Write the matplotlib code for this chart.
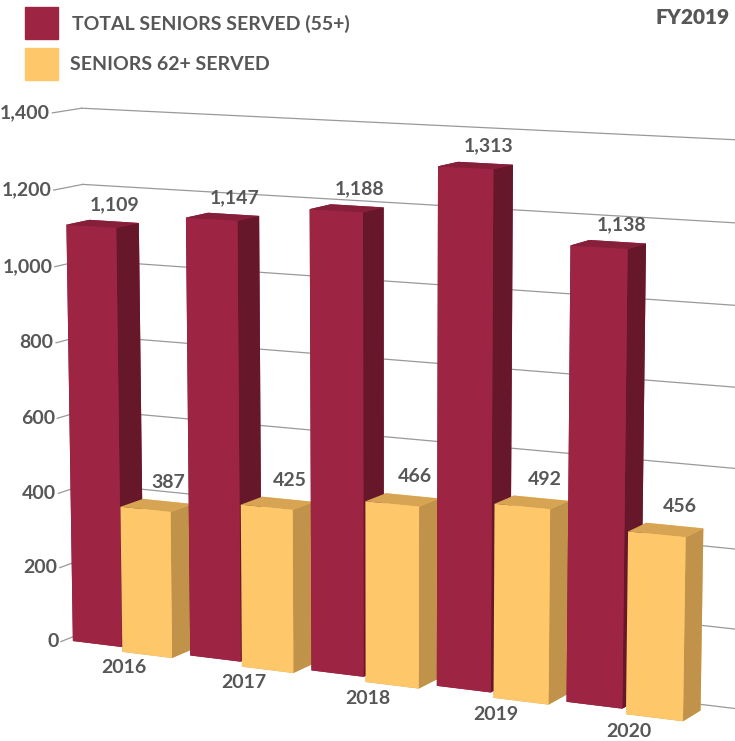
import numpy as np
import matplotlib.pyplot as plt
from matplotlib.patches import Rectangle
from mpl_toolkits.mplot3d import proj3d

# datos
anos = ['2016', '2017', '2018', '2019', '2020']
total_55 = [1109, 1147, 1188, 1313, 1138]
seniors_62 = [387, 425, 466, 492, 456]
ticks_z = [0, 200, 400, 600, 800, 1000, 1200, 1400]
tick_labels = ['0', '200', '400', '600', '800', '1,000', '1,200', '1,400']

gris = '#575757'
# caras: abajo, arriba, frente, fondo, izquierda, derecha
rojo = ['#8a1f3a', '#86203a', '#9e2444', '#9e2444', '#7a1a30', '#66172a']
amarillo = ['#d8a452', '#d6a452', '#fdc76a', '#fdc76a', '#c59446', '#c1924a']

plt.rcParams['font.family'] = ['Lato', 'DejaVu Sans']

fig = plt.figure(figsize=(7.35, 7.41), dpi=100)
ax = fig.add_axes([-0.085, -0.136, 1.2, 1.14], projection='3d')
ax.set_proj_type('persp', focal_length=0.8)
ax.view_init(elev=10, azim=-63.5)
ax.set_axis_off()

n = len(anos)
x = np.arange(n)
x0, x1 = -0.5, 4.9
y0, y1 = 0.0, 1.0
yw = 0.42  # borde delantero de la pared izquierda

# barras: roja detras, amarilla delante
xs = np.concatenate([x - 0.43, x + 0.07])
ys = np.concatenate([np.full(n, 0.5), np.full(n, 0.32)])
dz = np.concatenate([total_55, seniors_62])
colores = [c for cs in [rojo] * n + [amarillo] * n for c in cs]
ax.bar3d(xs, ys, np.zeros(2 * n), 0.42, 0.46, dz, color=colores, shade=False,
         edgecolor='none')

# cuadricula: pared izquierda y pared del fondo
for z in ticks_z:
    ax.plot([x0, x0], [yw, y1], [z, z], color='#999999', lw=0.9)
    ax.plot([x0, x1], [y1, y1], [z, z], color='#999999', lw=0.9)

ax.set_xlim(x0, x1)
ax.set_ylim(y0, y1)
ax.set_zlim(0, 1400)
ax.set_box_aspect((770, 100, 560), zoom=1.1)

fig.canvas.draw()


def texto(px, py, pz, s, **kw):
    u, v, _ = proj3d.proj_transform(px, py, pz, ax.M)
    ax.text2D(u, v, s, transform=ax.transData, color=gris, fontweight='bold',
              **kw)


for z, t in zip(ticks_z, tick_labels):
    texto(x0 - 0.02, yw, z, t, ha='right', va='center', fontsize=14)

for i in range(n):
    texto(x[i] - 0.12, 0.73, total_55[i] + 30, f'{total_55[i]:,}', ha='center',
          va='bottom', fontsize=14)
    texto(x[i] + 0.38, 0.55, seniors_62[i] + 40, f'{seniors_62[i]:,}',
          ha='center', va='bottom', fontsize=14)
    texto(x[i] + 0.11, 0.25, -15, anos[i], ha='center', va='top', fontsize=14)

# leyenda
fig.patches.append(Rectangle((25 / 735, 1 - 39 / 741), 33 / 735, 32 / 741,
                             transform=fig.transFigure, color='#9e2444'))
fig.patches.append(Rectangle((25 / 735, 1 - 80 / 741), 33 / 735, 32 / 741,
                             transform=fig.transFigure, color='#fdc76a'))
fig.text(72 / 735, 1 - 24 / 741, 'TOTAL SENIORS SERVED (55+)', fontsize=14,
         color=gris, fontweight='bold', va='center')
fig.text(70 / 735, 1 - 65 / 741, 'SENIORS 62+ SERVED', fontsize=14,
         color=gris, fontweight='bold', va='center')
fig.text(730 / 735, 1 - 17 / 741, 'FY2019', fontsize=15, color=gris,
         fontweight='heavy', ha='right', va='center')

fig.savefig('out.png', dpi=100)
